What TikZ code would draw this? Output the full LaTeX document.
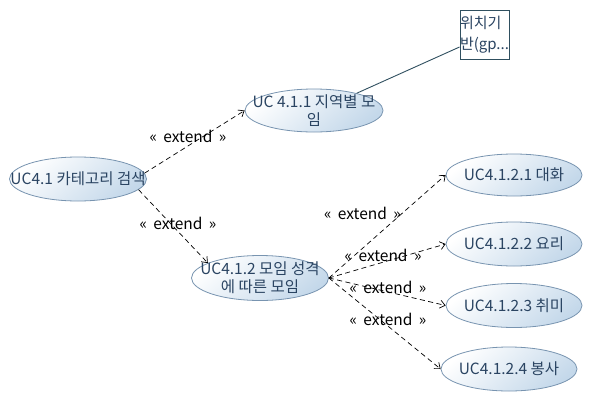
\documentclass[tikz,border=0pt]{standalone}
\usepackage{fontspec}
\setmainfont{Noto Sans CJK KR}
\usetikzlibrary{shapes.geometric,arrows.meta}
\definecolor{uctext}{RGB}{42,68,98}
\definecolor{ucborder}{RGB}{120,148,176}
\definecolor{ucfill}{RGB}{196,216,234}
\definecolor{notecol}{RGB}{47,79,95}
\newcommand{\extlabel}{«\hspace{3pt} extend\hspace{3pt} »}
\tikzset{
  uc/.style={ellipse, draw=ucborder, line width=0.8pt, top color=white, bottom color=ucfill,
    shading angle=40, minimum width=137pt, minimum height=44pt, inner sep=0pt},
  uctxt/.style={text=uctext, font=\fontsize{15.5}{18}\selectfont, align=center, inner sep=0pt},
  ext/.style={draw=black, line width=0.7pt, dash pattern=on 5pt off 3.5pt,
    -{Straight Barb[length=5pt,width=8pt]}},
  elabel/.style={text=black, font=\fontsize{15.5}{18}\selectfont, inner sep=0pt},
  notebox/.style={draw=notecol, line width=0.9pt, fill=white, minimum width=49pt, minimum height=49pt,
    inner sep=0pt, align=left, font=\fontsize{15}{21}\selectfont, text=uctext}
}
\begin{document}
\begin{tikzpicture}[x=1pt,y=-1pt]
\useasboundingbox (0,0) rectangle (595,402);

\node[uc, label={[uctxt]center:UC4.1 카테고리 검색}] (u41) at (78,179) {};
\node[uc, minimum height=43pt, minimum width=138pt, label={[uctxt]center:UC 4.1.1 지역별 모\\임}] (u411) at (314,110.5) {};
\node[uc, minimum height=45pt, label={[uctxt]center:UC4.1.2 모임 성격\\에 따른 모임}] (u412) at (260,278) {};
\node[uc, minimum width=136pt, minimum height=42pt, label={[uctxt]center:UC4.1.2.1 대화}] (u4121) at (514,175) {};
\node[uc, minimum width=136pt, label={[uctxt]center:UC4.1.2.2 요리}] (u4122) at (514,244) {};
\node[uc, minimum width=136pt, label={[uctxt]center:UC4.1.2.3 취미}] (u4123) at (514,305.5) {};
\node[uc, minimum width=136pt, label={[uctxt]center:UC4.1.2.4 봉사}] (u4124) at (509,369) {};

\node[notebox] (note) at (484.5,34.5) {위치기\\반(gp...};
\draw[notecol, line width=0.9pt] ([yshift=-12.5pt]note.west) -- (u411.22);

\draw[ext] (u41.5) -- node[elabel, pos=0.434, yshift=10pt] {\extlabel} (u411.west);
\draw[ext] (u41.-10) -- node[elabel, pos=0.454, xshift=8pt] {\extlabel} (u412.164);
\draw[ext] (u412.east) -- node[elabel, pos=0.63, xshift=-40pt] {\extlabel} (u4121.west);
\draw[ext] (u412.east) -- node[elabel, pos=0.464, yshift=7pt] {\extlabel} (u4122.west);
\draw[ext] (u412.east) -- node[elabel, pos=0.506, yshift=4.5pt] {\extlabel} (u4123.west);
\draw[ext] (u412.east) -- node[elabel, pos=0.529, yshift=7pt] {\extlabel} (u4124.west);
\end{tikzpicture}
\end{document}
